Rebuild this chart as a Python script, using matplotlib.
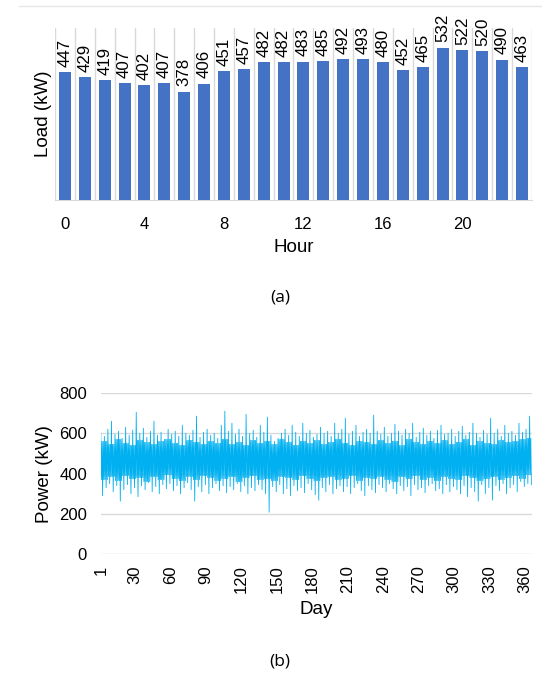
import matplotlib
matplotlib.use("Agg")
import matplotlib.pyplot as plt
from matplotlib.lines import Line2D

plt.rcParams['font.family'] = ['Liberation Sans', 'DejaVu Sans']

# (a) average hourly load
hours = list(range(24))
load = [447, 429, 419, 407, 402, 407, 378, 406, 451, 457, 482, 482,
        483, 485, 492, 493, 480, 452, 465, 532, 522, 520, 490, 463]
hour_ticks = [0, 4, 8, 12, 16, 20]

# (b) yearly power, read per 3-day bin: spike highs / lows
bin_start = list(range(1, 366, 3))
power_hi = [600, 585, 620, 660, 595, 610, 575, 630, 590, 615,
            704, 600, 625, 580, 610, 660, 590, 605, 570, 620,
            595, 610, 585, 640, 600, 590, 615, 685, 580, 605,
            620, 590, 600, 575, 640, 710, 610, 650, 595, 620,
            585, 694, 600, 615, 580, 640, 605, 680, 590, 560,
            575, 600, 620, 590, 640, 605, 585, 650, 600, 615,
            580, 595, 630, 600, 610, 585, 650, 600, 620, 675,
            595, 610, 640, 585, 605, 620, 600, 690, 610, 595,
            630, 585, 600, 645, 610, 590, 620, 600, 650, 580,
            605, 625, 590, 610, 575, 615, 640, 595, 600, 620,
            585, 610, 635, 590, 605, 650, 600, 580, 615, 595,
            675, 600, 620, 585, 640, 600, 610, 590, 650, 605,
            620, 685]
power_lo = [290, 330, 350, 310, 340, 263, 320, 345, 300, 330,
            285, 340, 320, 355, 310, 335, 300, 345, 325, 350,
            315, 340, 300, 330, 355, 320, 263, 335, 310, 345,
            300, 330, 350, 315, 340, 305, 335, 320, 350, 310,
            340, 300, 330, 315, 345, 320, 300, 208, 335, 310,
            345, 300, 325, 290, 340, 315, 330, 305, 350, 320,
            295, 268, 330, 310, 345, 300, 325, 340, 310, 335,
            300, 330, 350, 315, 290, 340, 320, 305, 345, 330,
            310, 350, 325, 300, 340, 315, 335, 290, 345, 320,
            330, 305, 340, 350, 315, 325, 300, 345, 310, 335,
            320, 300, 340, 285, 330, 310, 263, 345, 300, 330,
            268, 340, 315, 350, 300, 330, 345, 310, 360, 335,
            350, 345]
# dense core of the band, per 6-day bin
core_hi = [560, 545, 570, 550, 540, 565, 555, 545, 560, 570,
           550, 540, 565, 555, 545, 560, 550, 570, 545, 555,
           540, 565, 550, 560, 545, 570, 555, 540, 560, 550,
           565, 545, 555, 570, 550, 540, 560, 555, 545, 565,
           550, 560, 540, 570, 555, 545, 560, 550, 565, 545,
           555, 570, 540, 560, 550, 545, 565, 555, 560, 570,
           575]
core_lo = [370, 385, 365, 390, 375, 380, 360, 385, 370, 395,
           375, 365, 385, 370, 390, 380, 365, 375, 385, 360,
           380, 390, 370, 375, 365, 385, 380, 370, 390, 375,
           365, 380, 385, 370, 375, 390, 365, 380, 375, 385,
           370, 360, 385, 375, 390, 370, 380, 365, 385, 375,
           370, 390, 380, 365, 375, 385, 370, 380, 390, 375,
           395]
day_ticks = [1] + list(range(30, 361, 30))

grid_c = '#d9d9d9'
bar_c = '#4472c4'
line_c = '#00b0f0'

fig = plt.figure(figsize=(5.42, 6.75), dpi=100)
fig.add_artist(Line2D([0.035, 1.0], [1 - 6 / 675, 1 - 6 / 675], color='#e6e6e6', lw=1))

# ---- (a)
ax1 = fig.add_axes([0.1015, 0.7037, 0.88, 0.2548])
ax1.bar(hours, load, width=0.6, color=bar_c, zorder=3)
for h, v in zip(hours, load):
    ax1.text(h, v + 18, str(v), rotation=90, ha='center', va='bottom', fontsize=12.2)
for b in range(25):
    ax1.axvline(b - 0.5, color=grid_c, lw=1, zorder=1)
ax1.set_xlim(-0.5, 23.5)
ax1.set_ylim(0, 600)
ax1.set_yticks([])
ax1.set_xticks(hour_ticks)
ax1.tick_params(axis='x', length=0, labelsize=12, pad=12)
for s in ['top', 'right', 'left']:
    ax1.spines[s].set_visible(False)
ax1.spines['bottom'].set_color(grid_c)
ax1.set_ylabel('Load (kW)', fontsize=13.5, labelpad=2)
ax1.set_xlabel('Hour', fontsize=13.5, labelpad=5)
fig.text(0.517, 1 - 298 / 675, '(a)', ha='center', va='center', fontsize=12.5,
         family=['Open Sans', 'DejaVu Sans'])

# ---- (b)
xs, ys = [], []
for i, d in enumerate(bin_start):
    c = i // 2
    vals = [power_hi[i], core_lo[c], core_hi[c], power_lo[i], core_hi[c], core_lo[c]]
    for k, v in enumerate(vals):
        xs.append(d + k * 0.5)
        ys.append(v)
xs = [x for x in xs if x <= 365.5]
ys = ys[:len(xs)]

ax2 = fig.add_axes([0.186, 0.179, 0.7955, 0.2388])
ax2.plot(xs, ys, color=line_c, lw=0.6, zorder=3)
ax2.set_xlim(1, 366)
ax2.set_ylim(0, 800)
ax2.set_yticks([0, 200, 400, 600, 800])
ax2.yaxis.grid(True, color=grid_c, lw=1)
ax2.set_axisbelow(True)
ax2.set_xticks(day_ticks)
ax2.set_xticklabels([str(d) for d in day_ticks], rotation=90)
ax2.tick_params(axis='both', length=0, labelsize=12)
ax2.tick_params(axis='x', pad=8)
ax2.tick_params(axis='y', pad=10)
for s in ['top', 'right', 'left', 'bottom']:
    ax2.spines[s].set_visible(False)
ax2.set_ylabel('Power (kW)', fontsize=13.5, labelpad=4)
ax2.set_xlabel('Day', fontsize=13.5, labelpad=6)
fig.text(0.517, 1 - 662 / 675, '(b)', ha='center', va='center', fontsize=12.5,
         family=['Open Sans', 'DejaVu Sans'])

fig.savefig('out.png', dpi=100)
